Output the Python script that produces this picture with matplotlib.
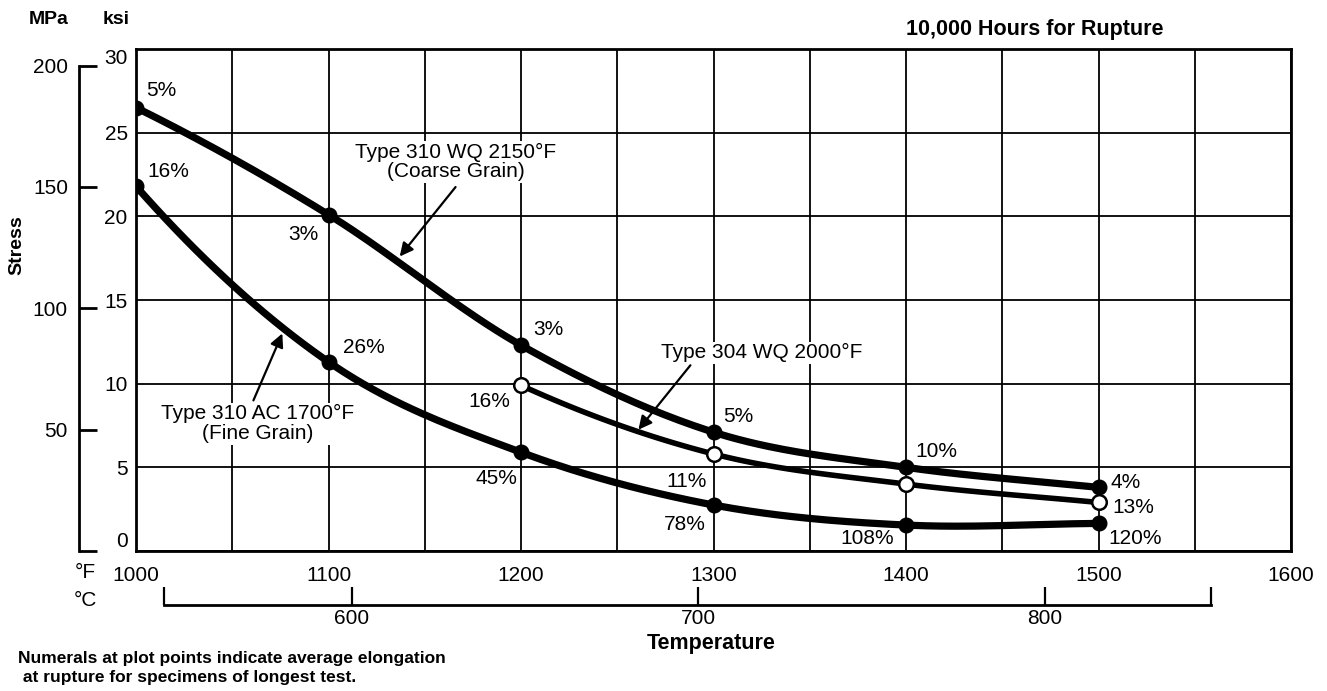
import matplotlib
matplotlib.use('Agg')
import matplotlib.pyplot as plt
import numpy as np

FONT = 'Liberation Sans'
plt.rcParams['font.family'] = FONT

W, H = 1327, 691
DPI = 100
KSI_TO_MPA = 6.894757

# stress (ksi) for 10,000 h rupture, read at each test temperature (°F)
temps = [1000, 1100, 1200, 1300, 1400, 1500]
coarse_ksi = [26.5, 20.1, 12.3, 7.1, 5.0, 3.8]      # Type 310 WQ 2150°F
fine_ksi = [21.8, 11.3, 5.9, 2.75, 1.55, 1.65]      # Type 310 AC 1700°F
t304_temps = [1200, 1300, 1400, 1500]
t304_ksi = [9.9, 5.8, 4.0, 2.9]                     # Type 304 WQ 2000°F

# elongation at rupture (%) printed beside each point
coarse_elong = ['5%', '3%', '3%', '5%', '10%', '4%']
fine_elong = ['16%', '26%', '45%', '78%', '108%', '120%']
t304_elong = ['16%', '11%', None, '13%']

# label offsets in pixels from each point
coarse_off = [(25, 17), (-25, -20), (27, 16), (25, 16), (30, 16), (27, 5)]
fine_off = [(32, 15), (35, 14), (-25, -26), (-29, -20), (-39, -13), (37, -15)]
t304_off = [(-32, -16), (-27, -28), None, (35, -5)]


def smooth(xs, ys, n=40):
    """Cubic Hermite curve through the points, for drawing only.
    Central-difference slopes inside, three-point slope at the start,
    plain secant at the end."""
    x = np.asarray(xs, float)
    y = np.asarray(ys, float)
    m = np.empty_like(y)
    m[1:-1] = (y[2:] - y[:-2]) / (x[2:] - x[:-2])
    m[0] = (-3 * y[0] + 4 * y[1] - y[2]) / (2 * (x[1] - x[0]))
    m[-1] = (y[-1] - y[-2]) / (x[-1] - x[-2])
    t = np.linspace(0, 1, n)
    h00 = 2 * t ** 3 - 3 * t ** 2 + 1
    h10 = t ** 3 - 2 * t ** 2 + t
    h01 = -2 * t ** 3 + 3 * t ** 2
    h11 = t ** 3 - t ** 2
    ox, oy = [], []
    for i in range(len(x) - 1):
        h = x[i + 1] - x[i]
        ox.extend(x[i] + h * t)
        oy.extend(h00 * y[i] + h10 * h * m[i] + h01 * y[i + 1] + h11 * h * m[i + 1])
    return np.array(ox), np.array(oy)


fig = plt.figure(figsize=(W / DPI, H / DPI), dpi=DPI)
fig.patch.set_facecolor('white')
L, R, T, B = 136, 1291, 49, 551
ax = fig.add_axes([L / W, (H - B) / H, (R - L) / W, (B - T) / H])
ax.set_xlim(1000, 1600)
ax.set_ylim(0, 30)

# grid
ax.set_xticks(np.arange(1000, 1601, 100))
ax.set_xticks(np.arange(1050, 1600, 100), minor=True)
ax.set_yticks(np.arange(0, 31, 5), [str(v) for v in range(0, 31, 5)])
ax.grid(True, which='both', color='black', lw=1.3)
ax.set_axisbelow(True)
for s in ax.spines.values():
    s.set_linewidth(2)
ax.tick_params(axis='both', which='both', length=0, labelsize=15)
ax.tick_params(axis='x', pad=11)
ax.tick_params(axis='y', pad=6)
yt = ax.yaxis.get_major_ticks()
yt[0].label1.set_va('bottom')
yt[-1].label1.set_va('top')

# MPa scale
mpa = ax.secondary_yaxis(-(L - 79) / (R - L),
                         functions=(lambda k: k * KSI_TO_MPA, lambda m: m / KSI_TO_MPA))
mpa.set_yticks([0, 50, 100, 150, 200], ['', '50', '100', '150', '200'])
mpa.spines['left'].set_bounds(0, 200)
mpa.spines['left'].set_linewidth(2)
mpa.tick_params(direction='in', length=13, width=2, labelsize=15, pad=8)

# °C scale bracket
cel = ax.secondary_xaxis(-(605 - B) / (B - T),
                         functions=(lambda f: (f - 32) * 5 / 9, lambda c: c * 9 / 5 + 32))
cel.set_xticks([546, 600, 700, 800, 848], ['', '600', '700', '800', ''])
cel.spines['bottom'].set_bounds(546, 848)
cel.spines['bottom'].set_linewidth(2)
cel.tick_params(direction='in', length=13, width=1.6, labelsize=15, pad=3)

# curves
for xs, ys, lw in ((temps, coarse_ksi, 5.2), (temps, fine_ksi, 5.2), (t304_temps, t304_ksi, 4.0)):
    sx, sy = smooth(xs, ys)
    ax.plot(sx, sy, color='black', lw=lw, solid_capstyle='butt', zorder=3)
ax.plot(temps, coarse_ksi, 'o', color='black', ms=10.5, zorder=4)
ax.plot(temps, fine_ksi, 'o', color='black', ms=10.5, zorder=4)
ax.plot(t304_temps, t304_ksi, 'o', mfc='white', mec='black', mew=1.8, ms=10.5, zorder=4)

for xs, ys, labels, offs in ((temps, coarse_ksi, coarse_elong, coarse_off),
                             (temps, fine_ksi, fine_elong, fine_off),
                             (t304_temps, t304_ksi, t304_elong, t304_off)):
    for x, y, lab, off in zip(xs, ys, labels, offs):
        if lab is None:
            continue
        ax.annotate(lab, (x, y), xytext=off, textcoords='offset pixels',
                    ha='center', va='center', fontsize=15, zorder=5)

# curve call-outs (white box breaks the grid behind the text)
arrow = dict(arrowstyle='-|>', color='black', lw=1.6, mutation_scale=20,
             shrinkA=0, shrinkB=0)
box = dict(facecolor='white', edgecolor='none', pad=1.0)
ax.annotate('', xy=(1137, 17.6), xytext=(1166, 21.75), arrowprops=arrow, zorder=5)
ax.text(1166, 23.25, 'Type 310 WQ 2150°F\n(Coarse Grain)', ha='center', va='center',
        fontsize=15, linespacing=1.05, bbox=box, zorder=2)
ax.annotate('', xy=(1076, 13.0), xytext=(1061, 9.0), arrowprops=arrow, zorder=5)
ax.text(1063, 7.6, 'Type 310 AC 1700°F\n(Fine Grain)', ha='center', va='center',
        fontsize=15, linespacing=1.05, bbox=box, zorder=2)
ax.annotate('', xy=(1261, 7.25), xytext=(1288, 11.1), arrowprops=arrow, zorder=5)
ax.text(1325, 11.85, 'Type 304 WQ 2000°F', ha='center', va='center', fontsize=15,
        bbox=box, zorder=2)

# headers and axis titles
fig.text(49 / W, 1 - 19 / H, 'MPa', ha='center', va='center', fontsize=14, fontweight='bold')
fig.text(116 / W, 1 - 19 / H, 'ksi', ha='center', va='center', fontsize=14, fontweight='bold')
fig.text(1163 / W, 1 - 30 / H, '10,000 Hours for Rupture', ha='right', va='center',
         fontsize=15.5, fontweight='bold')
fig.text(17 / W, 1 - 245 / H, 'Stress', rotation=90, ha='center', va='center',
         fontsize=14, fontweight='bold')
fig.text(85 / W, 1 - 573 / H, '°F', ha='center', va='center', fontsize=15)
fig.text(85 / W, 1 - 600 / H, '°C', ha='center', va='center', fontsize=15)
fig.text(711 / W, 1 - 643 / H, 'Temperature', ha='center', va='center',
         fontsize=15.5, fontweight='bold')
fig.text(18 / W, 1 - 668 / H,
         'Numerals at plot points indicate average elongation\n'
         ' at rupture for specimens of longest test.',
         ha='left', va='center', fontsize=12.5, fontweight='bold', linespacing=1.3)

fig.savefig('out.png', dpi=DPI, facecolor='white')
